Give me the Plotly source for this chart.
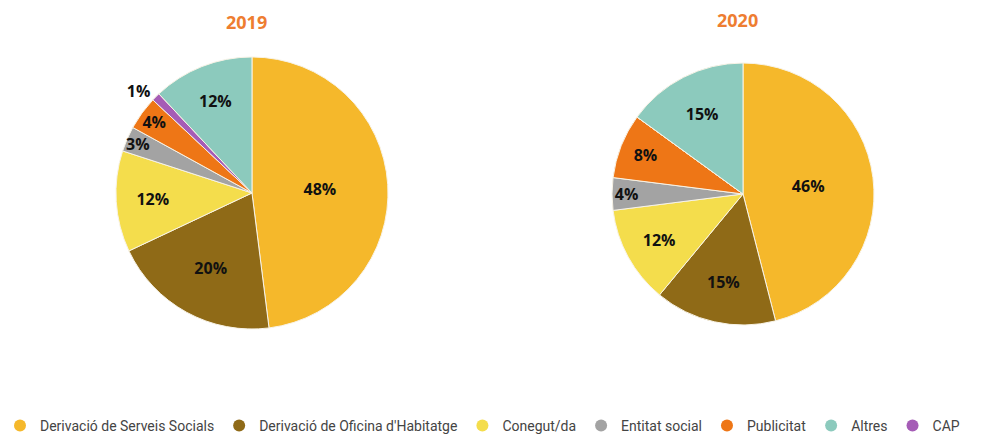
import plotly.graph_objects as go

legend_labels = ["Derivació de Serveis Socials", "Derivació de Oficina d'Habitatge", "Conegut/da",
                 "Entitat social", "Publicitat", "Altres", "CAP"]
colors = {"Derivació de Serveis Socials": "#F5B82B", "Derivació de Oficina d'Habitatge": "#8F6A17",
          "Conegut/da": "#F4DD4C", "Entitat social": "#A3A3A3", "Publicitat": "#EE7616",
          "Altres": "#8CCABD", "CAP": "#A55CB6"}

# slice order (clockwise from top)
pie_labels = ["Derivació de Serveis Socials", "Derivació de Oficina d'Habitatge", "Conegut/da",
              "Entitat social", "Publicitat", "CAP", "Altres"]
values_2019 = [48, 20, 12, 3, 4, 1, 12]
values_2020 = [46, 15, 12, 4, 8, 0, 15]
years = ["2019", "2020"]

fig = go.Figure()

domains = [dict(x=[0.1166, 0.3945], y=[0.2419, 0.8687]),
           dict(x=[0.6207, 0.8864], y=[0.2512, 0.8548])]

for vals, dom in zip([values_2019, values_2020], domains):
    texts = [f"{v}%" if v > 0 else "" for v in vals]
    pos = ["outside" if v == 1 else "inside" for v in vals]
    fig.add_trace(go.Pie(
        labels=pie_labels, values=vals, text=texts, textinfo="text",
        textposition=pos, insidetextorientation="horizontal",
        sort=False, direction="clockwise", rotation=0,
        marker=dict(colors=[colors[l] for l in pie_labels], line=dict(color="#F8F3E6", width=1)),
        textfont=dict(family="Open Sans", size=16, color="#111111", weight="bold"),
        domain=dom, showlegend=False, hoverinfo="label+percent",
    ))

for lab in legend_labels:
    fig.add_trace(go.Scatter(x=[None], y=[None], mode="markers", name=lab,
                             marker=dict(color=colors[lab], size=15, symbol="circle")))

for yr, xc, yc in zip(years, [246 / 986, 737 / 986], [1 - 22 / 434, 1 - 20 / 434]):
    fig.add_annotation(text=f"<b>{yr}</b>", x=xc, y=yc, xref="paper", yref="paper",
                       xanchor="center", yanchor="middle",
                       showarrow=False, font=dict(family="Open Sans", size=18, color="#EE7D31"))

fig.update_layout(
    width=986, height=434, margin=dict(l=0, r=0, t=0, b=0, autoexpand=False),
    paper_bgcolor="white", plot_bgcolor="white",
    xaxis=dict(visible=False), yaxis=dict(visible=False),
    uniformtext=dict(minsize=16, mode="show"),
    legend=dict(orientation="h", x=0.0, y=1 - 426 / 434, xanchor="left", yanchor="middle",
                font=dict(family="Roboto", size=14, color="#444444"),
                itemsizing="constant", tracegroupgap=0, itemwidth=30),
)

fig.write_html("out.html", config={"displayModeBar": False},
               post_script="document.body.style.margin='0';")
